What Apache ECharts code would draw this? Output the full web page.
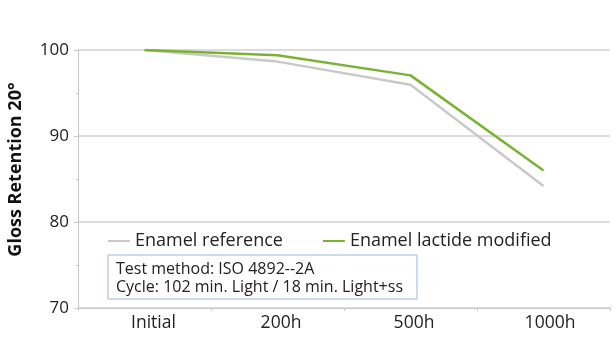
<!DOCTYPE html>
<html><head><meta charset="utf-8">
<script src="https://cdn.jsdelivr.net/npm/echarts@6/dist/echarts.min.js"></script>
<style>html,body{margin:0;padding:0;background:#fff}#c{width:615px;height:350px}</style>
</head><body><div id="c"></div>
<script>
const categories = ['Initial', '200h', '500h', '1000h'];
const enamelReference = [100, 98.65, 95.95, 84.2];
const enamelLactide = [100, 99.4, 97.05, 86.0];
const yTicks = [70, 80, 90, 100];
const seriesNames = ['Enamel reference', 'Enamel lactide modified'];
const noteLines = ['Test method: ISO 4892--2A', 'Cycle: 102 min. Light / 18 min. Light+ss'];

const chart = echarts.init(document.getElementById('c'), null, {renderer: 'canvas'});
const font = 'Open Sans';
const labelPadLeft = [18, 7, 7, 13];
chart.setOption({
  animation: false,
  backgroundColor: '#fff',
  grid: {left: 78, right: 5, top: 50, bottom: 42, containLabel: false, outerBoundsMode: 'none'},
  legend: {
    left: 108, top: 232, padding: 0, itemWidth: 22, itemHeight: 2, itemGap: 40,
    icon: 'rect',
    textStyle: {fontFamily: font, fontSize: 18, color: '#222'},
    data: seriesNames
  },
  xAxis: {
    type: 'category', boundaryGap: true,
    data: categories.map((c, i) => ({value: c, textStyle: {padding: [0, 0, 0, labelPadLeft[i]]}})),
    axisLine: {lineStyle: {color: '#c8c8c8', width: 1}},
    axisTick: {show: true, length: 3, lineStyle: {color: '#c8c8c8'}},
    axisLabel: {fontFamily: font, fontSize: 17.5, color: '#222', margin: 6}
  },
  yAxis: {
    type: 'value', min: yTicks[0], max: yTicks[yTicks.length - 1], interval: 10,
    name: 'Gloss Retention 20°', nameLocation: 'middle', nameRotate: 90, nameGap: 53,
    nameTextStyle: {fontFamily: font, fontSize: 18, fontWeight: 'bold', color: '#111', padding: [0, 0, 0, 19]},
    axisLine: {show: true, lineStyle: {color: '#c8c8c8'}},
    axisTick: {show: true, length: 4, lineStyle: {color: '#c8c8c8'}},
    minorTick: {show: true, splitNumber: 2, length: 2, lineStyle: {color: '#c8c8c8'}},
    axisLabel: {fontFamily: font, fontSize: 17, color: '#222', margin: 9},
    splitLine: {lineStyle: {color: '#d0d0d0', width: 1.5}}
  },
  series: [
    {name: seriesNames[0], type: 'line', data: enamelReference, symbol: 'none',
     lineStyle: {color: '#c9c9c9', width: 2.5}, itemStyle: {color: '#c9c9c9'}, z: 2},
    {name: seriesNames[1], type: 'line', data: enamelLactide, symbol: 'none',
     lineStyle: {color: '#7ab332', width: 2.5}, itemStyle: {color: '#7ab332'}, z: 3}
  ],
  graphic: [{
    type: 'group', x: 108, y: 255,
    children: [
      {type: 'rect', shape: {x: 0, y: 0, width: 309, height: 44},
       style: {fill: '#fff', stroke: '#9db8e0', lineWidth: 1}},
      {type: 'text', x: 8, y: 14,
       style: {text: noteLines[0], fontFamily: font, fontSize: 16, fill: '#222', verticalAlign: 'middle'}},
      {type: 'text', x: 8, y: 32,
       style: {text: noteLines[1], fontFamily: font, fontSize: 16, fill: '#222', verticalAlign: 'middle'}}
    ]
  }]
});
</script></body></html>
